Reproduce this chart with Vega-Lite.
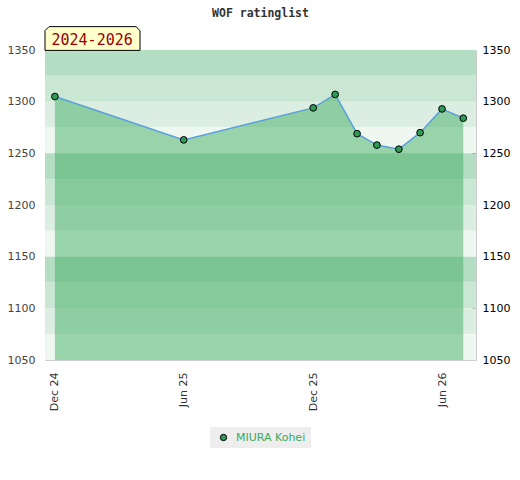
{
  "$schema": "https://vega.github.io/schema/vega-lite/v6.json",
  "width": 431,
  "height": 310,
  "autosize": "none",
  "padding": {"left": 45, "top": 50, "right": 44, "bottom": 120},
  "background": "white",
  "title": {
    "text": "WOF ratinglist",
    "font": "DejaVu Sans Mono",
    "fontSize": 11.5,
    "fontWeight": "bold",
    "color": "#333333",
    "anchor": "middle",
    "frame": "group",
    "offset": 14,
    "dy": 9
  },
  "config": {
    "view": {"stroke": "#cccccc", "strokeWidth": 1},
    "axis": {"labelFont": "DejaVu Sans", "labelFontSize": 11, "title": null, "grid": false, "domain": false},
    "legend": {"labelFont": "DejaVu Sans", "labelFontSize": 11, "layout": {"anchor": "middle"}}
  },
  "datasets": {
    "bands": [
      {"lo": 1325, "hi": 1350, "shade": "a"},
      {"lo": 1300, "hi": 1325, "shade": "b"},
      {"lo": 1275, "hi": 1300, "shade": "c"},
      {"lo": 1250, "hi": 1275, "shade": "d"},
      {"lo": 1225, "hi": 1250, "shade": "a"},
      {"lo": 1200, "hi": 1225, "shade": "b"},
      {"lo": 1175, "hi": 1200, "shade": "c"},
      {"lo": 1150, "hi": 1175, "shade": "d"},
      {"lo": 1125, "hi": 1150, "shade": "a"},
      {"lo": 1100, "hi": 1125, "shade": "b"},
      {"lo": 1075, "hi": 1100, "shade": "c"},
      {"lo": 1050, "hi": 1075, "shade": "d"}
    ],
    "ratings": [
      {"date": "2024-12-01", "rating": 1305, "player": "MIURA Kohei"},
      {"date": "2025-06-01", "rating": 1263, "player": "MIURA Kohei"},
      {"date": "2025-12-01", "rating": 1294, "player": "MIURA Kohei"},
      {"date": "2026-01-01", "rating": 1307, "player": "MIURA Kohei"},
      {"date": "2026-02-01", "rating": 1269, "player": "MIURA Kohei"},
      {"date": "2026-03-01", "rating": 1258, "player": "MIURA Kohei"},
      {"date": "2026-04-01", "rating": 1254, "player": "MIURA Kohei"},
      {"date": "2026-05-01", "rating": 1270, "player": "MIURA Kohei"},
      {"date": "2026-06-01", "rating": 1293, "player": "MIURA Kohei"},
      {"date": "2026-07-01", "rating": 1284, "player": "MIURA Kohei"}
    ],
    "period": [{"label": "2024-2026"}]
  },
  "resolve": {"axis": {"y": "independent"}},
  "layer": [
    {
      "data": {"name": "bands"},
      "mark": {"type": "rect"},
      "encoding": {
        "y": {"field": "lo", "type": "quantitative", "scale": {"domain": [1050, 1350], "nice": false, "zero": false},
          "axis": {"orient": "left", "format": "d", "values": [1050, 1100, 1150, 1200, 1250, 1300, 1350], "ticks": false, "labelPadding": 10, "labelColor": "#444444"}},
        "y2": {"field": "hi"},
        "fill": {"field": "shade", "type": "nominal", "legend": null,
          "scale": {"domain": ["a", "b", "c", "d"], "range": ["#b3dec3", "#cae7d4", "#dcede2", "#eff7f1"]}}
      }
    },
    {
      "data": {"name": "ratings"},
      "mark": {"type": "area", "color": "#3aaa5a", "opacity": 0.47},
      "encoding": {
        "x": {"field": "date", "type": "temporal",
          "scale": {"type": "utc", "domain": [{"year": 2024, "month": 11, "date": 17, "utc": true}, {"year": 2026, "month": 7, "date": 19, "utc": true}]},
          "axis": {"format": "%b %y", "labelAngle": 270, "ticks": false, "labelPadding": 12, "labelColor": "#333333",
            "values": [
              {"year": 2024, "month": 12, "date": 1, "utc": true},
              {"year": 2025, "month": 6, "date": 1, "utc": true},
              {"year": 2025, "month": 12, "date": 1, "utc": true},
              {"year": 2026, "month": 6, "date": 1, "utc": true}
            ]}},
        "y": {"field": "rating", "type": "quantitative", "axis": null},
        "y2": {"datum": 1050}
      }
    },
    {
      "data": {"name": "ratings"},
      "transform": [{"filter": "datum.date == '2024-12-01' || datum.date == '2026-07-01'"}],
      "mark": {"type": "rule", "color": "#3a9e5e", "strokeWidth": 1},
      "encoding": {
        "x": {"field": "date", "type": "temporal"},
        "y": {"field": "rating", "type": "quantitative", "axis": null},
        "y2": {"datum": 1050}
      }
    },
    {
      "data": {"name": "ratings"},
      "mark": {"type": "line", "color": "#5aa0dc", "strokeWidth": 1.5},
      "encoding": {
        "x": {"field": "date", "type": "temporal"},
        "y": {"field": "rating", "type": "quantitative", "axis": null}
      }
    },
    {
      "data": {"name": "ratings"},
      "mark": {"type": "point", "filled": true, "shape": "circle", "size": 45, "stroke": "black", "strokeWidth": 1, "opacity": 1},
      "encoding": {
        "x": {"field": "date", "type": "temporal"},
        "y": {"field": "rating", "type": "quantitative",
          "axis": {"orient": "right", "format": "d", "offset": -4, "tickSize": 3, "tickColor": "black", "labelPadding": 7, "labelColor": "black",
            "tickOpacity": {"condition": {"test": "datum.value == 1050 || datum.value == 1350", "value": 0}, "value": 1},
            "labelExpr": "datum.value % 50 == 0 ? datum.label : ''",
            "values": [1050, 1060, 1070, 1080, 1090, 1100, 1110, 1120, 1130, 1140, 1150, 1160, 1170, 1180, 1190, 1200, 1210, 1220, 1230, 1240, 1250, 1260, 1270, 1280, 1290, 1300, 1310, 1320, 1330, 1340, 1350]}},
        "color": {"field": "player", "type": "nominal", "title": null,
          "scale": {"domain": ["MIURA Kohei"], "range": ["#2f9a55"]},
          "legend": {"orient": "bottom", "labelColor": "#3caa5c", "fillColor": "#eeeeee", "padding": 5, "offset": 16,
            "symbolType": "circle", "symbolSize": 40, "symbolOffset": 3, "labelOffset": 7, "symbolStrokeColor": "black", "symbolStrokeWidth": 1}}
      }
    },
    {
      "data": {"name": "period"},
      "mark": {"type": "point", "filled": true, "opacity": 1, "fill": "#ffffcc", "stroke": "black", "strokeWidth": 1, "size": 9025,
        "shape": "M-1,0.25L-1,-0.166L-0.916,-0.25L0.916,-0.25L1,-0.166L1,0.25Z", "xOffset": 47.5, "yOffset": -11.5},
      "encoding": {
        "x": {"datum": {"year": 2024, "month": 11, "date": 17, "utc": true}, "type": "temporal"},
        "y": {"datum": 1350, "type": "quantitative", "axis": null}
      }
    },
    {
      "data": {"name": "period"},
      "mark": {"type": "text", "font": "DejaVu Sans Mono", "fontSize": 15, "color": "#990000",
        "align": "left", "baseline": "alphabetic", "dx": 6.5, "dy": -5.5},
      "encoding": {
        "text": {"field": "label"},
        "x": {"datum": {"year": 2024, "month": 11, "date": 17, "utc": true}, "type": "temporal"},
        "y": {"datum": 1350, "type": "quantitative", "axis": null}
      }
    }
  ]
}
